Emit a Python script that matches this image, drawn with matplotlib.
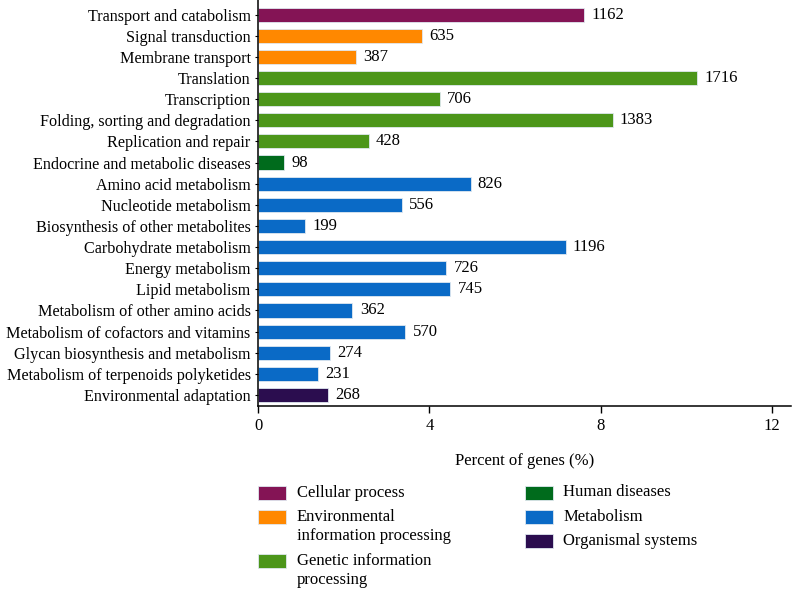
import matplotlib
matplotlib.use('Agg')
import matplotlib.pyplot as plt
from matplotlib.patches import Rectangle

plt.rcParams['font.family'] = ['Liberation Serif', 'DejaVu Serif']

categories = ['Transport and catabolism', 'Signal transduction', 'Membrane transport',
              'Translation', 'Transcription', 'Folding, sorting and degradation',
              'Replication and repair', 'Endocrine and metabolic diseases',
              'Amino acid metabolism', 'Nucleotide metabolism',
              'Biosynthesis of other metabolites', 'Carbohydrate metabolism',
              'Energy metabolism', 'Lipid metabolism', 'Metabolism of other amino acids',
              'Metabolism of cofactors and vitamins', 'Glycan biosynthesis and metabolism',
              'Metabolism of terpenoids polyketides', 'Environmental adaptation']
percent = [7.62, 3.82, 2.29, 10.26, 4.24, 8.28, 2.58, 0.61, 4.96, 3.36,
           1.09, 7.18, 4.39, 4.49, 2.20, 3.44, 1.67, 1.40, 1.62]
counts = [1162, 635, 387, 1716, 706, 1383, 428, 98, 826, 556,
          199, 1196, 726, 745, 362, 570, 274, 231, 268]
groups = ['Cellular process', 'Environmental information processing',
          'Environmental information processing',
          'Genetic information processing', 'Genetic information processing',
          'Genetic information processing', 'Genetic information processing',
          'Human diseases'] + ['Metabolism'] * 10 + ['Organismal systems']

group_names = ['Cellular process', 'Environmental information processing',
               'Genetic information processing', 'Human diseases',
               'Metabolism', 'Organismal systems']
legend_labels = ['Cellular process', 'Environmental\ninformation processing',
                 'Genetic information\nprocessing', 'Human diseases',
                 'Metabolism', 'Organismal systems']
colors = {'Cellular process': '#841455',
          'Environmental information processing': '#FF8800',
          'Genetic information processing': '#4C961A',
          'Human diseases': '#006B1C',
          'Metabolism': '#0A6AC6',
          'Organismal systems': '#2B0D4F'}

W, H = 792, 590
fs = 12
fig = plt.figure(figsize=(W / 100, H / 100), dpi=100)
ax = fig.add_axes([258.3 / W, 1 - 406 / H, 532.7 / W, 406 / H])

ypos = list(range(len(categories)))
bar_colors = [colors[g] for g in groups]
ax.barh(ypos, percent, height=0.67, color=bar_colors,
        edgecolor='#dfe8f0', linewidth=0.6)
for y, p, c in zip(ypos, percent, counts):
    ax.text(p + 0.17, y, str(c), va='center', ha='left', fontsize=fs)

ax.set_ylim(18.52, -0.69)
ax.set_xlim(0, 12.45)
ax.set_xticks([0, 4, 8, 12])
ax.set_yticks(ypos)
ax.set_yticklabels(categories, fontsize=11.6)
ax.tick_params(axis='x', labelsize=fs, length=5, width=1, pad=4)
ax.tick_params(axis='y', length=2.5, width=0.8, pad=3)
ax.spines['top'].set_visible(False)
ax.spines['right'].set_visible(False)
ax.spines['left'].set_linewidth(1.1)
ax.spines['bottom'].set_linewidth(1.1)
ax.set_xlabel('Percent of genes (%)', fontsize=fs)
ax.xaxis.set_label_coords((524.8 - 258.3) / 532.7, -47 / 406)

# legend drawn in figure pixels
col_x = [258, 525]
text_x = [296.7, 563.3]
row_y = [[493, 516.5, 560.5], [492.5, 516.7, 540.7]]
line_gap = 20.3
for i, (name, lab) in enumerate(zip(group_names, legend_labels)):
    col, row = divmod(i, 3)
    y = row_y[col][row]
    fig.add_artist(Rectangle((col_x[col] / W, 1 - (y + 7) / H), 27.5 / W, 14 / H,
                             transform=fig.transFigure, facecolor=colors[name],
                             edgecolor='#dfe8f0', linewidth=0.6))
    nlines = lab.count('\n') + 1
    yc = y + (nlines - 1) * line_gap / 2
    fig.text(text_x[col] / W, 1 - yc / H, lab, va='center', ha='left',
             fontsize=fs, linespacing=1.3)

fig.savefig('out.png', dpi=100, facecolor='white')
